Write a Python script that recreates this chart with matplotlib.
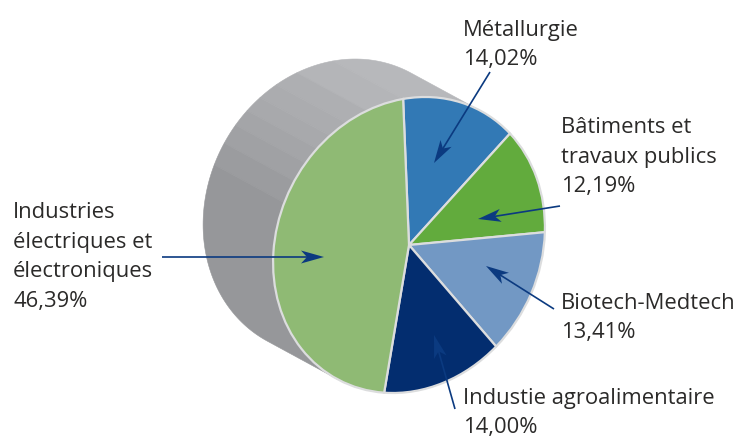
import numpy as np
import matplotlib
matplotlib.use("Agg")
import matplotlib.pyplot as plt
from matplotlib.patches import Polygon
from matplotlib.transforms import Affine2D

plt.rcParams['font.family'] = ['Open Sans', 'DejaVu Sans']

# sens horaire depuis le haut
secteurs = ['Métallurgie', 'Bâtiments et\ntravaux publics', 'Biotech-Medtech',
            'Industie agroalimentaire', 'Industries\nélectriques et\nélectroniques']
valeurs = [14.02, 12.19, 13.41, 14.00, 46.39]
couleurs = ['#3279b5', '#62ab3d', '#7298c4', '#032d6f', '#8fba74']

# position des textes et des fleches, en pixels de l'image
pos_textes = [(463, 45), (561, 157), (561, 318), (463, 413), (13, 257)]
fleches = [((490, 72), (434, 163)), ((560, 206), (478, 219)), ((554, 309), (486, 266)),
           ((455, 409), (434, 335)), ((162, 257), (324, 257))]
marine = '#0b3a80'

W, H = 741, 438
cx, cy, rx, ry = 409, 245, 135, 147
dx, dy = -70, -38
# l'ellipse du dessus est legerement penchee
s, c = 1.005, 0.06
M = np.array([[s, c, 0], [c, s, 0], [0, 0, 1]])

fig = plt.figure(figsize=(W / 100, H / 100), dpi=100)
bg = fig.add_axes([0, 0, 1, 1])
bg.set_xlim(0, W)
bg.set_ylim(H, 0)
bg.axis('off')

# flanc gris du cylindre, par bandes (de tangente a tangente)
bords = [61.5, 96, 111.5, 121, 129, 136, 143, 151, 160, 241.5]
gris = ['#b7b8bb', '#b4b5b8', '#aeafb2', '#abacaf', '#a8a9ac', '#a4a5a8', '#a0a1a4', '#9b9c9f', '#96979a']
for a0, a1, g in zip(bords[:-1], bords[1:], gris):
    t = np.radians(np.linspace(a0, a1, 60))
    u, v = np.cos(t), np.sin(t)
    x = cx + rx * (s * u + c * v)
    y = cy - ry * (c * u + s * v)
    pts = np.r_[np.c_[x, y], np.c_[x[::-1] + dx, y[::-1] + dy]]
    bg.add_patch(Polygon(pts, closed=True, fc=g, ec=g, lw=0.4))

# le camembert
ax = fig.add_axes([(cx - rx) / W, 1 - (cy + ry) / H, 2 * rx / W, 2 * ry / H])
wedges, _ = ax.pie(valeurs, colors=couleurs, startangle=95.9, counterclock=False, radius=1,
                   wedgeprops={'edgecolor': '#dcddde', 'linewidth': 1.6})
ax.set_aspect('auto')
ax.set_xlim(-1, 1)
ax.set_ylim(-1, 1)
ax.patch.set_alpha(0)
for w in wedges:
    w.set_transform(Affine2D(M) + ax.transData)
    w.set_clip_on(False)

# calque du dessus pour les textes et fleches
top = fig.add_axes([0, 0, 1, 1])
top.set_xlim(0, W)
top.set_ylim(H, 0)
top.axis('off')
top.patch.set_alpha(0)

for (x0, y0), (x1, y1) in fleches:
    d = np.array([x1 - x0, y1 - y0], dtype=float)
    d = d / np.hypot(*d)
    n = np.array([-d[1], d[0]])
    p = np.array([x1, y1], dtype=float)
    top.plot([x0, x1 - d[0] * 15], [y0, y1 - d[1] * 15], color=marine, lw=1.2, solid_capstyle='butt')
    tete = [p, p - 23 * d + 6.5 * n, p - 17 * d, p - 23 * d - 6.5 * n]
    top.add_patch(Polygon(tete, closed=True, fc=marine, ec='none'))

for nom, val, (x, y) in zip(secteurs, valeurs, pos_textes):
    pct = f'{val:.2f}%'.replace('.', ',')
    top.text(x, y, nom + '\n' + pct, fontsize=15.8, color='#2b2a29', ha='left', va='center',
             linespacing=1.55)

fig.savefig('out.png', dpi=100)
